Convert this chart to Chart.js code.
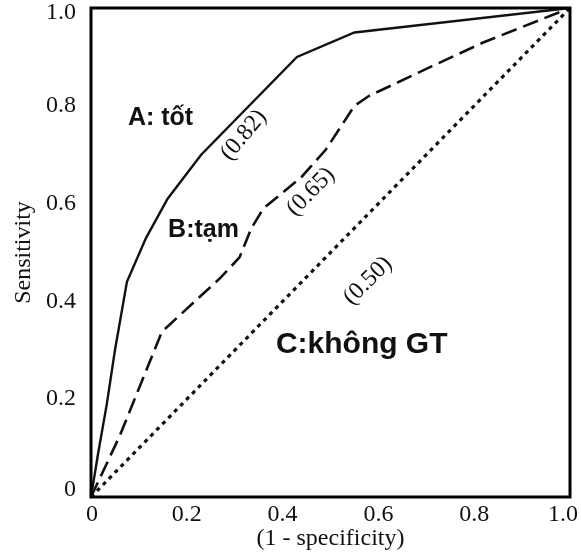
<!DOCTYPE html>
<html>
<head>
<meta charset="utf-8">
<script src="https://cdn.jsdelivr.net/npm/chart.js@4.4.0/dist/chart.umd.min.js"></script>
<style>
  html, body { margin: 0; padding: 0; background: #fff; }
  #wrap { width: 581px; height: 555px; }
</style>
</head>
<body>
<div id="wrap"><canvas id="c" width="581" height="555"></canvas></div>
<script>
// ---- data ----
const curveA_x = [0, 0.015, 0.033, 0.05, 0.075, 0.115, 0.16, 0.23, 0.43, 0.55, 1];
const curveA_y = [0, 0.09, 0.19, 0.30, 0.44, 0.53, 0.61, 0.70, 0.90, 0.95, 1];

const curveB_x = [0, 0.06, 0.148, 0.27, 0.31, 0.335, 0.36, 0.44, 0.49, 0.55, 0.58, 0.71, 0.82, 1];
const curveB_y = [0, 0.125, 0.338, 0.448, 0.49, 0.55, 0.59, 0.655, 0.71, 0.80, 0.82, 0.88, 0.93, 1];

const curveC_x = [0, 1];
const curveC_y = [0, 1];

const tickValues = [0, 0.2, 0.4, 0.6, 0.8, 1.0];
const tickLabels = ['0', '0.2', '0.4', '0.6', '0.8', '1.0'];

const curveNames = ['A: tốt', 'B:tạm', 'C:không GT'];
const aucLabels = ['(0.82)', '(0.65)', '(0.50)'];

// ---- annotation placement (data units) ----
const nameSpots = [
  { x: 0.077, y: 0.761, size: 25 },
  { x: 0.161, y: 0.532, size: 25 },
  { x: 0.386, y: 0.294, size: 30 }
];
const aucSpots = [
  { x: 0.319, y: 0.740, rot: -50 },
  { x: 0.459, y: 0.624, rot: -46 },
  { x: 0.578, y: 0.442, rot: -45 }
];
// nudge of the end tick labels inward (pixels)
const edgeNudge = { x: { first: 1, last: -7 }, y: { first: -7, last: 5 } };

function toPoints(xs, ys) { return xs.map((x, i) => ({ x: x, y: ys[i] })); }
function tickText(v) {
  const i = tickValues.findIndex(t => Math.abs(t - v) < 1e-6);
  return i >= 0 ? tickLabels[i] : '';
}
function zeroPad(s) { s.paddingTop = 0; s.paddingBottom = 0; s.paddingLeft = 0; s.paddingRight = 0; }

const SERIF = '"Liberation Serif", "Times New Roman", Times, serif';
const SANS = '"Liberation Sans", Arial, Helvetica, sans-serif';

const edgeLabelPlugin = {
  id: 'edgeLabels',
  beforeDraw(chart) {
    ['x', 'y'].forEach(id => {
      const s = chart.scales[id];
      const items = s.getLabelItems(chart.chartArea);
      if (!items.length) return;
      const k = id === 'x' ? 0 : 1;
      items[0].options.translation[k] += edgeNudge[id].first;
      items[items.length - 1].options.translation[k] += edgeNudge[id].last;
    });
  }
};

const framePlugin = {
  id: 'frame',
  afterDatasetsDraw(chart) {
    const { ctx, chartArea: a, scales } = chart;
    ctx.save();
    ctx.strokeStyle = '#000';
    ctx.lineWidth = 3;
    ctx.strokeRect(a.left, a.top, a.right - a.left, a.bottom - a.top);
    ctx.fillStyle = '#111';
    nameSpots.forEach((s, i) => {
      ctx.font = 'bold ' + s.size + 'px ' + SANS;
      ctx.textAlign = 'left';
      ctx.textBaseline = 'alphabetic';
      ctx.fillText(curveNames[i], scales.x.getPixelForValue(s.x), scales.y.getPixelForValue(s.y));
    });
    aucSpots.forEach((s, i) => {
      ctx.save();
      ctx.translate(scales.x.getPixelForValue(s.x), scales.y.getPixelForValue(s.y));
      ctx.rotate(s.rot * Math.PI / 180);
      ctx.font = '24px ' + SERIF;
      ctx.textAlign = 'center';
      ctx.textBaseline = 'middle';
      ctx.fillText(aucLabels[i], 0, 0);
      ctx.restore();
    });
    ctx.restore();
  }
};

new Chart(document.getElementById('c'), {
  type: 'scatter',
  data: {
    datasets: [
      { data: toPoints(curveA_x, curveA_y), showLine: true, borderColor: '#111', borderWidth: 2.4, pointRadius: 0, tension: 0, fill: false },
      { data: toPoints(curveB_x, curveB_y), showLine: true, borderColor: '#111', borderWidth: 2.6, borderDash: [16, 7], pointRadius: 0, tension: 0, fill: false },
      { data: toPoints(curveC_x, curveC_y), showLine: true, borderColor: '#111', borderWidth: 3.2, borderDash: [4, 4.5], pointRadius: 0, tension: 0, fill: false }
    ]
  },
  options: {
    responsive: false,
    animation: false,
    events: [],
    layout: { autoPadding: false, padding: { left: 0, right: 11, top: 8, bottom: 0 } },
    plugins: { legend: { display: false }, tooltip: { enabled: false } },
    scales: {
      x: {
        type: 'linear', min: 0, max: 1,
        afterFit(s) { s.height = 58; zeroPad(s); },
        afterBuildTicks(s) { s.ticks = tickValues.map(v => ({ value: v })); },
        grid: { display: false, drawTicks: false },
        border: { display: false },
        ticks: { color: '#111', padding: 3, font: { family: SERIF, size: 24 }, callback: v => tickText(v), maxRotation: 0, autoSkip: false },
        title: { display: true, text: '(1 - specificity)', color: '#111', font: { family: SERIF, size: 24, lineHeight: 1.2 }, padding: { top: 0, bottom: 2 } }
      },
      y: {
        type: 'linear', min: 0, max: 1,
        afterFit(s) { s.width = 91; zeroPad(s); },
        afterBuildTicks(s) { s.ticks = tickValues.map(v => ({ value: v })); },
        grid: { display: false, drawTicks: false },
        border: { display: false },
        ticks: { color: '#111', padding: 15, font: { family: SERIF, size: 24 }, callback: v => tickText(v), autoSkip: false },
        title: { display: true, text: 'Sensitivity', color: '#111', font: { family: SERIF, size: 24, lineHeight: 1.2 }, padding: { top: 9, bottom: 0 } }
      }
    }
  },
  plugins: [edgeLabelPlugin, framePlugin]
});
</script>
</body>
</html>
